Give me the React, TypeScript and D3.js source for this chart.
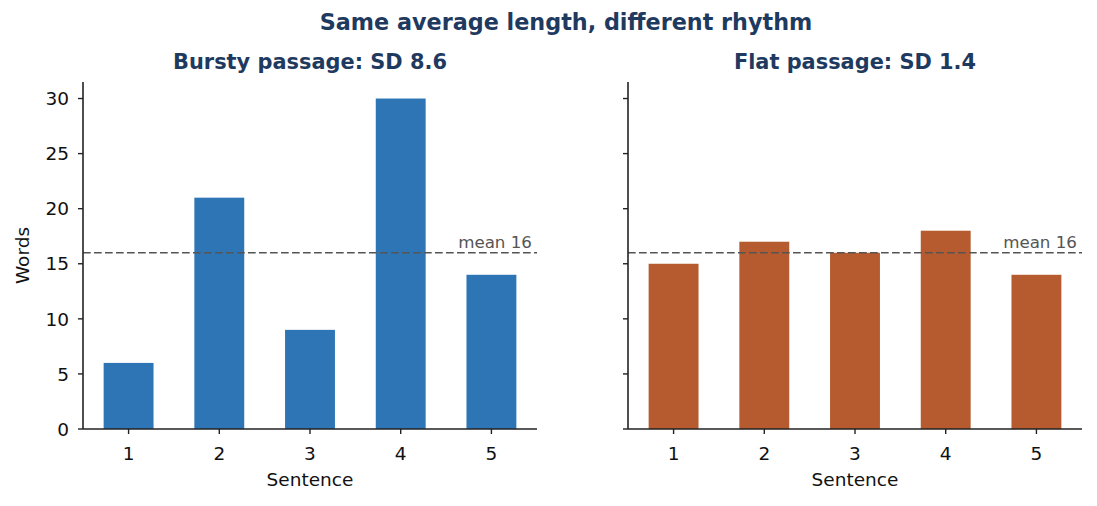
import * as d3 from 'd3'

const sentences = [1, 2, 3, 4, 5]
const burstyWords = [6, 21, 9, 30, 14]
const flatWords = [15, 17, 16, 18, 14]
const yTicks = [0, 5, 10, 15, 20, 25, 30]
const meanWords = 16

const FONT = '"DejaVu Sans", Verdana, sans-serif'
const NAVY = '#1f3a5f'
const INK = '#222222'
const LABEL_SIZE = 18.5

const width = 1097
const height = 506
const plot = { top: 82, bottom: 429, width: 454 }
const panelLefts = [83, 628]

const y = d3.scaleLinear().domain([0, 31.5]).range([plot.bottom, plot.top])

type PanelProps = {
  left: number
  title: string
  values: number[]
  color: string
  showYLabels: boolean
}

function Panel({ left, title, values, color, showYLabels }: PanelProps) {
  const x = d3.scaleLinear().domain([0.4975, 5.5025]).range([left, left + plot.width])
  const barW = x(0.55) - x(0)

  return (
    <g>
      <text
        x={left + plot.width / 2}
        y={69}
        textAnchor="middle"
        fontFamily={FONT}
        fontWeight="bold"
        fontSize={20.9}
        fill={NAVY}
      >
        {title}
      </text>

      {/* bars */}
      {sentences.map((s, i) => (
        <rect
          key={s}
          x={x(s) - barW / 2}
          y={y(values[i])}
          width={barW}
          height={y(0) - y(values[i])}
          fill={color}
        />
      ))}

      {/* mean line */}
      <line
        x1={left}
        x2={left + plot.width}
        y1={y(meanWords)}
        y2={y(meanWords)}
        stroke="#555555"
        strokeWidth={1.6}
        strokeDasharray="7.7,3.3"
      />
      <text
        x={left + plot.width - 5}
        y={y(meanWords) - 4.5}
        textAnchor="end"
        fontFamily={FONT}
        fontSize={16.7}
        fill="#555555"
      >
        {`mean ${meanWords}`}
      </text>

      {/* y axis */}
      <line x1={left} x2={left} y1={plot.top} y2={plot.bottom} stroke={INK} strokeWidth={1.6} />
      {yTicks.map(t => (
        <g key={t}>
          <line x1={left - 5} x2={left} y1={y(t)} y2={y(t)} stroke={INK} strokeWidth={1.4} />
          {showYLabels && (
            <text
              x={left - 14}
              y={y(t)}
              dy="0.36em"
              textAnchor="end"
              fontFamily={FONT}
              fontSize={LABEL_SIZE}
              fill="#111"
            >
              {t}
            </text>
          )}
        </g>
      ))}

      {/* x axis */}
      <line
        x1={left}
        x2={left + plot.width}
        y1={plot.bottom}
        y2={plot.bottom}
        stroke={INK}
        strokeWidth={1.6}
      />
      {sentences.map(s => (
        <g key={s}>
          <line x1={x(s)} x2={x(s)} y1={plot.bottom} y2={plot.bottom + 5} stroke={INK} strokeWidth={1.4} />
          <text
            x={x(s)}
            y={460}
            textAnchor="middle"
            fontFamily={FONT}
            fontSize={LABEL_SIZE}
            fill="#111"
          >
            {s}
          </text>
        </g>
      ))}
      <text
        x={left + plot.width / 2}
        y={486}
        textAnchor="middle"
        fontFamily={FONT}
        fontSize={LABEL_SIZE}
        fill="#111"
      >
        Sentence
      </text>
    </g>
  )
}

export default function App() {
  return (
    <svg width={width} height={height} style={{ display: 'block', margin: -8 }}>
      <rect width={width} height={height} fill="#ffffff" />
      <text
        x={566}
        y={30}
        textAnchor="middle"
        fontFamily={FONT}
        fontWeight="bold"
        fontSize={22.3}
        fill={NAVY}
      >
        Same average length, different rhythm
      </text>
      <text
        transform={`translate(29,${(plot.top + plot.bottom) / 2}) rotate(-90)`}
        textAnchor="middle"
        fontFamily={FONT}
        fontSize={LABEL_SIZE}
        fill="#111"
      >
        Words
      </text>
      <Panel
        left={panelLefts[0]}
        title="Bursty passage: SD 8.6"
        values={burstyWords}
        color="#2e75b6"
        showYLabels
      />
      <Panel
        left={panelLefts[1]}
        title="Flat passage: SD 1.4"
        values={flatWords}
        color="#b55b2f"
        showYLabels={false}
      />
    </svg>
  )
}
